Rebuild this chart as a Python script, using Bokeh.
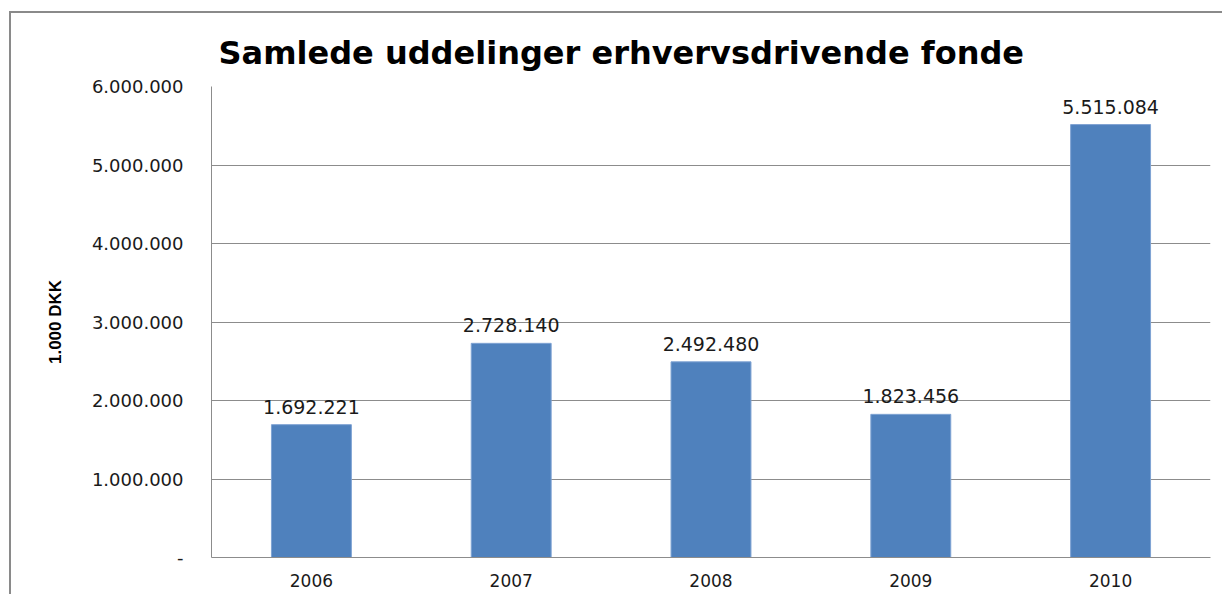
from bokeh.plotting import figure
from bokeh.models import FixedTicker
from bokeh.core.properties import value
from bokeh.embed import file_html
from bokeh.resources import INLINE

years = ["2006", "2007", "2008", "2009", "2010"]
values = [1692221, 2728140, 2492480, 1823456, 5515084]
value_labels = ["1.692.221", "2.728.140", "2.492.480", "1.823.456", "5.515.084"]
y_ticks = [0, 1000000, 2000000, 3000000, 4000000, 5000000, 6000000]
y_tick_labels = ["-", "1.000.000", "2.000.000", "3.000.000", "4.000.000", "5.000.000", "6.000.000"]
title_text = "Samlede uddelinger erhvervsdrivende fonde"
y_title = "1.000 DKK"

W, H = 1213, 583
p = figure(x_range=years, y_range=(0, 6000000), width=W, height=H,
           output_backend="svg", toolbar_location=None,
           min_border_left=200, min_border_right=14, min_border_top=73, min_border_bottom=39)
p.styles = {"border-left": "2px solid #8a8a8a", "border-top": "2px solid #8a8a8a",
            "margin-left": "9px", "margin-top": "11px"}
p.background_fill_color = "white"
p.outline_line_color = None

p.title.text = title_text
p.title.text_font = "DejaVu Sans"
p.title.text_font_style = "bold"
p.title.text_font_size = "32px"
p.title.text_color = "black"
p.title.align = "left"
p.title.offset = 7
p.title.vertical_align = "middle"
p.title.standoff = 27

src = dict(x=years, top=values, lab=value_labels)
p.vbar(x="x", top="top", width=0.4, source=src, fill_color="#4F81BD",
       line_color="#7fa3d3", line_width=1)
p.text(x="x", y="top", text="lab", source=src, text_align="center",
       text_baseline="bottom", y_offset=-11, text_font_size=value("19px"),
       text_font=value("DejaVu Sans"), text_color="#1a1a1a")

p.yaxis.ticker = FixedTicker(ticks=y_ticks)
p.yaxis.major_label_overrides = {t: l for t, l in zip(y_ticks, y_tick_labels)}
p.yaxis.major_tick_line_color = None
p.yaxis.minor_tick_line_color = None
p.yaxis.axis_line_color = "#8c8c8c"
p.yaxis.major_label_standoff = 22
p.yaxis.major_label_text_font = "DejaVu Sans"
p.yaxis.major_label_text_font_size = "18px"
p.yaxis.major_label_text_color = "#1a1a1a"
p.yaxis.axis_label = y_title
p.yaxis.axis_label_text_font = "Liberation Sans"
p.yaxis.axis_label_text_font_style = "bold"
p.yaxis.axis_label_text_font_size = "17px"
p.yaxis.axis_label_text_color = "black"
p.yaxis.axis_label_standoff = 24

p.xaxis.major_tick_line_color = None
p.xaxis.minor_tick_line_color = None
p.xaxis.axis_line_color = "#8c8c8c"
p.xaxis.major_label_standoff = 10
p.xaxis.major_label_text_font = "DejaVu Sans"
p.xaxis.major_label_text_font_size = "17px"
p.xaxis.major_label_text_color = "#1a1a1a"

p.xgrid.grid_line_color = None
p.ygrid.grid_line_color = "#8c8c8c"
p.ygrid.grid_line_width = 1

open("out.html", "w").write(file_html(p, INLINE))
